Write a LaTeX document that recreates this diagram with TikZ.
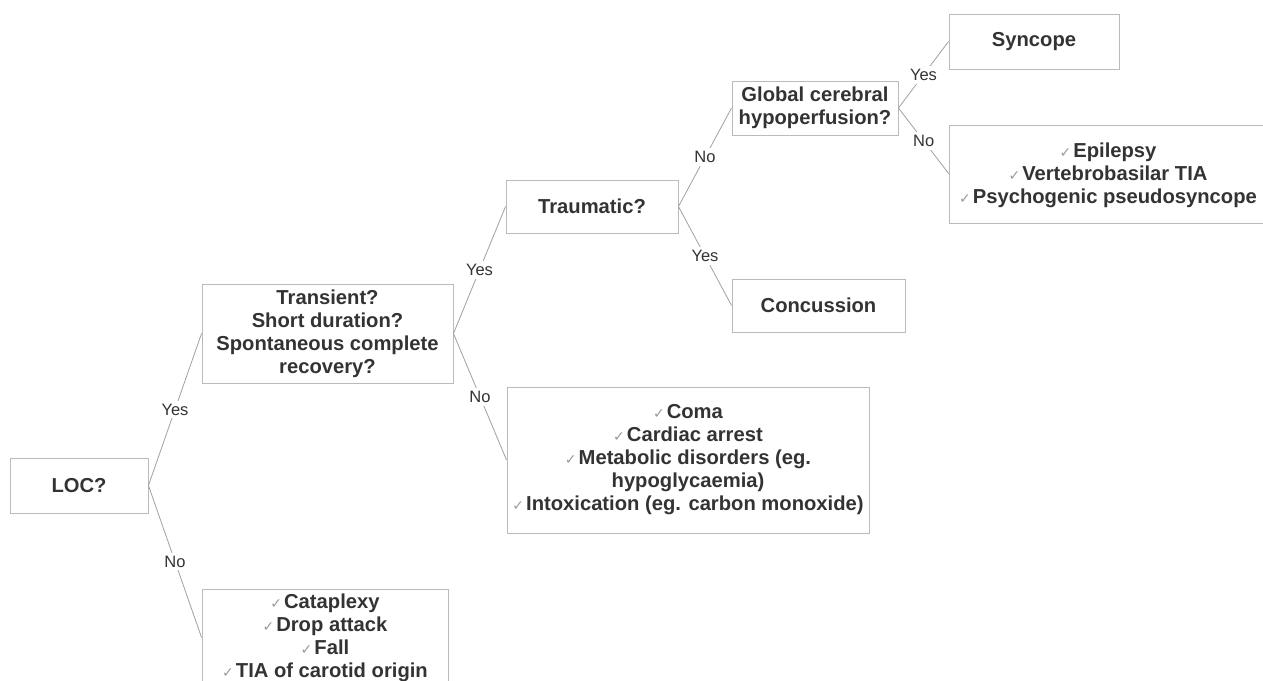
\documentclass[tikz,border=0pt]{standalone}
\usepackage{fontspec}
\setmainfont{Liberation Sans}
\newfontfamily\checkfont{DejaVu Sans}
\definecolor{txtc}{HTML}{333333}
\definecolor{boxc}{HTML}{BBBBBB}
\definecolor{linec}{HTML}{A0A0A0}
\definecolor{ckc}{HTML}{9A9A9A}
\newcommand\ck{{\checkfont\color{ckc}\fontsize{14}{14}\selectfont ✓}\hspace{2pt}}
\tikzset{
  box/.style={draw=boxc, line width=0.9pt, rectangle, inner sep=0pt, text=txtc,
    font=\bfseries\fontsize{20.2}{23}\selectfont, align=center},
  txt/.style={inner sep=0pt, text=txtc, font=\bfseries\fontsize{20.2}{23}\selectfont, align=center},
  conn/.style={draw=linec, line width=0.8pt},
  lab/.style={fill=white, inner sep=3pt, text=txtc, font=\fontsize{16.5}{18}\selectfont}
}
\begin{document}
\begin{tikzpicture}[x=1pt,y=-1pt]
\useasboundingbox (0,0) rectangle (1263,680);
\clip (0,0) rectangle (1263,680);
\node[box, minimum width=138, minimum height=55] (loc) at (79,485.5) {LOC?};
\node[box, minimum width=251, minimum height=99] (trans) at (327.5,333.5) {Transient?\\Short duration?\\Spontaneous complete\\recovery?};
\node[box, minimum width=172, minimum height=53] (traum) at (592,206.5) {Traumatic?};
\node[box, minimum width=173, minimum height=53] (conc) at (818.5,305.5) {Concussion};
\node[box, minimum width=166, minimum height=54] (glob) at (815,108) {Global cerebral\\hypoperfusion?};
\node[box, minimum width=170, minimum height=55] (sync) at (1034,41.5) {Syncope};
\node[box, minimum width=340, minimum height=98, anchor=west] (epi) at (949,174) {};
\node[txt] (epitext) at (1108,175) {\ck Epilepsy\\\ck Vertebrobasilar TIA\\\ck Psychogenic pseudosyncope};
\node[box, minimum width=362, minimum height=146] (coma) at (688,460) {\ck Coma\\\ck Cardiac arrest\\\ck Metabolic disorders (eg.\\hypoglycaemia)\\\ck Intoxication (eg. carbon monoxide)};
\node[box, minimum width=246, minimum height=96, anchor=north] (bot) at (325,589) {\rule{0pt}{11pt}\ck Cataplexy\\\ck Drop attack\\\ck Fall\\\ck TIA of carotid origin};
\draw[conn] (loc.east) -- node[lab]{Yes} (trans.west);
\draw[conn] (loc.east) -- node[lab]{No} (bot.west);
\draw[conn] (trans.east) -- node[lab]{Yes} (traum.west);
\draw[conn] (trans.east) -- node[lab]{No} (coma.west);
\draw[conn] (traum.east) -- node[lab]{No} (glob.west);
\draw[conn] (traum.east) -- node[lab]{Yes} (conc.west);
\draw[conn] (glob.east) -- node[lab]{Yes} (sync.west);
\draw[conn] (glob.east) -- node[lab]{No} (epi.west);
\end{tikzpicture}
\end{document}
